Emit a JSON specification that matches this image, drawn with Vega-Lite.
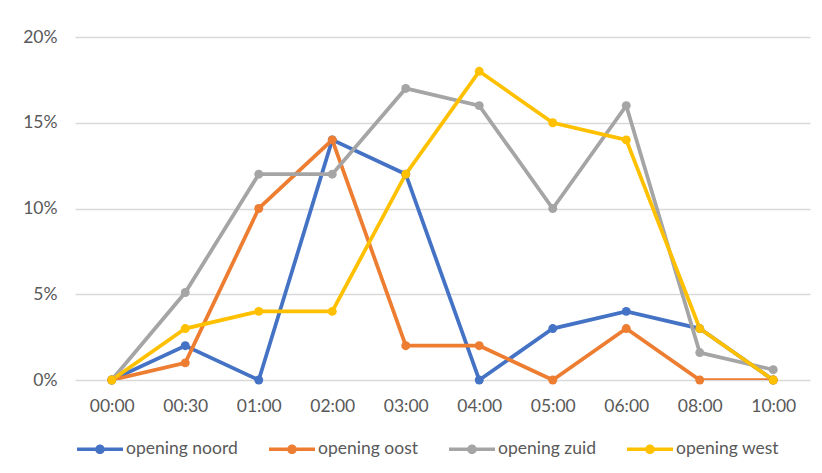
{
  "$schema": "https://vega.github.io/schema/vega-lite/v6.json",
  "width": 735,
  "height": 343,
  "autosize": {"type": "none"},
  "padding": {"left": 75, "top": 37, "right": 12, "bottom": 93},
  "background": "white",
  "config": {"view": {"stroke": null}, "font": "Lato"},
  "data": {
    "values": [
      {"serie": "opening noord", "tijd": "00:00", "v": 0},
      {"serie": "opening noord", "tijd": "00:30", "v": 0.02},
      {"serie": "opening noord", "tijd": "01:00", "v": 0},
      {"serie": "opening noord", "tijd": "02:00", "v": 0.14},
      {"serie": "opening noord", "tijd": "03:00", "v": 0.12},
      {"serie": "opening noord", "tijd": "04:00", "v": 0},
      {"serie": "opening noord", "tijd": "05:00", "v": 0.03},
      {"serie": "opening noord", "tijd": "06:00", "v": 0.04},
      {"serie": "opening noord", "tijd": "08:00", "v": 0.03},
      {"serie": "opening noord", "tijd": "10:00", "v": 0},
      {"serie": "opening oost", "tijd": "00:00", "v": 0},
      {"serie": "opening oost", "tijd": "00:30", "v": 0.01},
      {"serie": "opening oost", "tijd": "01:00", "v": 0.10},
      {"serie": "opening oost", "tijd": "02:00", "v": 0.14},
      {"serie": "opening oost", "tijd": "03:00", "v": 0.02},
      {"serie": "opening oost", "tijd": "04:00", "v": 0.02},
      {"serie": "opening oost", "tijd": "05:00", "v": 0},
      {"serie": "opening oost", "tijd": "06:00", "v": 0.03},
      {"serie": "opening oost", "tijd": "08:00", "v": 0},
      {"serie": "opening oost", "tijd": "10:00", "v": 0},
      {"serie": "opening zuid", "tijd": "00:00", "v": 0},
      {"serie": "opening zuid", "tijd": "00:30", "v": 0.051},
      {"serie": "opening zuid", "tijd": "01:00", "v": 0.12},
      {"serie": "opening zuid", "tijd": "02:00", "v": 0.12},
      {"serie": "opening zuid", "tijd": "03:00", "v": 0.17},
      {"serie": "opening zuid", "tijd": "04:00", "v": 0.16},
      {"serie": "opening zuid", "tijd": "05:00", "v": 0.10},
      {"serie": "opening zuid", "tijd": "06:00", "v": 0.16},
      {"serie": "opening zuid", "tijd": "08:00", "v": 0.016},
      {"serie": "opening zuid", "tijd": "10:00", "v": 0.006},
      {"serie": "opening west", "tijd": "00:00", "v": 0},
      {"serie": "opening west", "tijd": "00:30", "v": 0.03},
      {"serie": "opening west", "tijd": "01:00", "v": 0.04},
      {"serie": "opening west", "tijd": "02:00", "v": 0.04},
      {"serie": "opening west", "tijd": "03:00", "v": 0.12},
      {"serie": "opening west", "tijd": "04:00", "v": 0.18},
      {"serie": "opening west", "tijd": "05:00", "v": 0.15},
      {"serie": "opening west", "tijd": "06:00", "v": 0.14},
      {"serie": "opening west", "tijd": "08:00", "v": 0.03},
      {"serie": "opening west", "tijd": "10:00", "v": 0}
    ]
  },
  "encoding": {
    "x": {
      "field": "tijd",
      "type": "ordinal",
      "sort": null,
      "scale": {"type": "point", "padding": 0.5},
      "axis": {
        "title": null,
        "labelAngle": 0,
        "ticks": false,
        "domain": false,
        "grid": false,
        "labelPadding": 17,
        "labelFont": "Lato",
        "labelFontSize": 17.5,
        "labelColor": "#595959"
      }
    },
    "y": {
      "field": "v",
      "type": "quantitative",
      "scale": {"domain": [0, 0.2], "nice": false},
      "axis": {
        "title": null,
        "values": [0, 0.05, 0.1, 0.15, 0.2],
        "format": ".0%",
        "ticks": false,
        "domain": false,
        "grid": true,
        "gridColor": "#d9d9d9",
        "gridWidth": 1.3,
        "labelPadding": 18,
        "labelFont": "Lato",
        "labelFontSize": 17.5,
        "labelColor": "#595959"
      }
    },
    "color": {
      "field": "serie",
      "type": "nominal",
      "sort": null,
      "scale": {
        "domain": ["opening noord", "opening oost", "opening zuid", "opening west"],
        "range": ["#4472C4", "#ED7D31", "#A5A5A5", "#FFC000"]
      },
      "legend": {
        "orient": "none",
        "legendX": 2,
        "legendY": 389,
        "direction": "horizontal",
        "title": null,
        "padding": 0,
        "symbolType": "M-1,-0.075H1V0.075H-1Z M0.21,0A0.21,0.21 0 1 1 -0.21,0A0.21,0.21 0 1 1 0.21,0Z",
        "symbolSize": 2116,
        "symbolStrokeWidth": 0,
        "labelOffset": 3,
        "columnPadding": 31,
        "labelFont": "Lato",
        "labelFontSize": 17.5,
        "labelColor": "#595959",
        "encode": {
          "symbols": {
            "update": {
              "fill": {"scale": "color", "field": "value"},
              "opacity": {"value": 1},
              "fillOpacity": {"value": 1}
            }
          }
        }
      }
    }
  },
  "layer": [
    {"mark": {"type": "line", "strokeWidth": 3.75, "clip": true}},
    {"mark": {"type": "point", "filled": true, "size": 80, "opacity": 1}}
  ]
}
